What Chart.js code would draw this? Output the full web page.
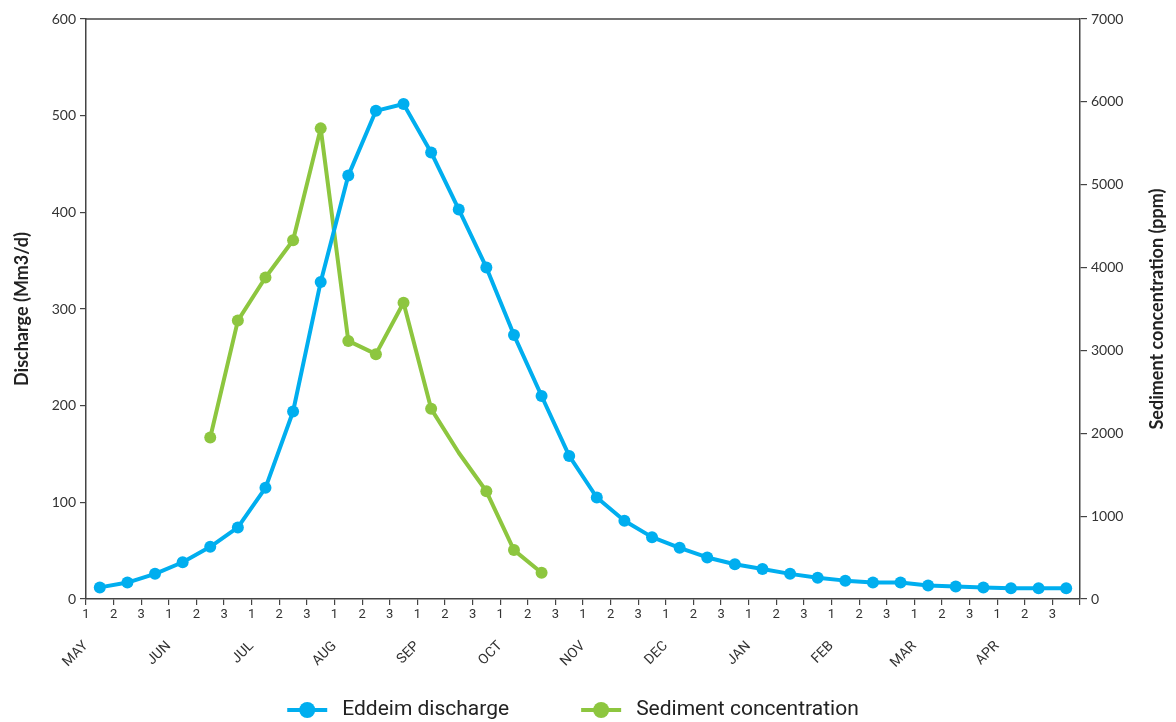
<!DOCTYPE html>
<html>
<head>
<meta charset="utf-8">
<script src="https://cdn.jsdelivr.net/npm/chart.js@4/dist/chart.umd.min.js"></script>
<style>
  body { margin: 0; background: #fff; }
  #wrap { width: 1176px; height: 722px; }
</style>
</head>
<body>
<div id="wrap"><canvas id="flowChart" width="1176" height="722"></canvas></div>
<script>
// DATA
const months = ['MAY', 'JUN', 'JUL', 'AUG', 'SEP', 'OCT', 'NOV', 'DEC', 'JAN', 'FEB', 'MAR', 'APR'];
const dekads = ['1', '2', '3'];

// discharge per dekad, Mm3/d (May 1 .. Apr 3)
const discharge = [
  12, 17, 26, 38, 54, 74, 115, 194, 328,
  438, 505, 512, 462, 403, 343, 273, 210, 148,
  105, 81, 64, 53, 43, 36, 31, 26, 22,
  19, 17, 17, 14, 13, 12, 11, 11, 11
];

// sediment concentration, ppm (only measured during flood season)
const sediment = [
  null, null, null, null, 1950, 3360, 3880, 4330, 5680,
  3115, 2955, 3575, 2295, 1765, 1300, 590, 317, null,
  null, null, null, null, null, null, null, null, null,
  null, null, null, null, null, null, null, null, null
];
const sedimentMarkerOff = [13];  // bend with no marker

const blue = '#00aeef';
const green = '#8dc63f';
const axisColor = '#444';

function toPoints(values) {
  const pts = [];
  values.forEach((v, i) => { if (v !== null) pts.push({ x: i + 0.5, y: v, i: i }); });
  return pts;
}

// top border line + right axis title (reads bottom-to-top) + legend
const extras = {
  id: 'extras',
  afterDraw(chart) {
    const { ctx, chartArea: a } = chart;
    ctx.save();
    ctx.strokeStyle = axisColor;
    ctx.lineWidth = 1.5;
    ctx.beginPath();
    ctx.moveTo(a.left, a.top);
    ctx.lineTo(a.right, a.top);
    ctx.stroke();

    // right title
    ctx.save();
    ctx.translate(1157, (a.top + a.bottom) / 2);
    ctx.rotate(-Math.PI / 2);
    ctx.fillStyle = '#222';
    ctx.font = 'bold 18px Lato';
    ctx.textAlign = 'center';
    ctx.textBaseline = 'middle';
    ctx.fillText('Sediment concentration (ppm)', 0, 0);
    ctx.restore();

    // legend
    const items = chart.data.datasets.map(ds => ({ text: ds.label, color: ds.borderColor }));
    ctx.font = '21px Roboto';
    const iconW = 40, gap = 15, between = 72;
    const widths = items.map(it => iconW + gap + ctx.measureText(it.text).width);
    const total = widths.reduce((s, w) => s + w, 0) + between * (items.length - 1);
    let x = 573 - total / 2;
    const y = 710;
    items.forEach((it, k) => {
      ctx.strokeStyle = it.color;
      ctx.fillStyle = it.color;
      ctx.lineWidth = 4;
      ctx.beginPath();
      ctx.moveTo(x, y);
      ctx.lineTo(x + iconW, y);
      ctx.stroke();
      ctx.beginPath();
      ctx.arc(x + iconW / 2, y, 8, 0, Math.PI * 2);
      ctx.fill();
      ctx.fillStyle = '#222';
      ctx.textAlign = 'left';
      ctx.textBaseline = 'middle';
      ctx.fillText(it.text, x + iconW + gap, y);
      x += widths[k] + between;
    });
    ctx.restore();
  }
};

const sedPoints = toPoints(sediment);

new Chart(document.getElementById('flowChart'), {
  type: 'line',
  data: {
    datasets: [{
      label: 'Eddeim discharge',
      data: toPoints(discharge),
      yAxisID: 'y',
      borderColor: blue,
      backgroundColor: blue,
      borderWidth: 4,
      borderJoinStyle: 'round',
      pointRadius: 6,
      pointHoverRadius: 6,
      pointBorderWidth: 0,
      tension: 0
    }, {
      label: 'Sediment concentration',
      data: sedPoints,
      yAxisID: 'y1',
      borderColor: green,
      backgroundColor: green,
      borderWidth: 4,
      borderJoinStyle: 'round',
      pointRadius: sedPoints.map(p => sedimentMarkerOff.includes(p.i) ? 0 : 6),
      pointHoverRadius: 6,
      pointBorderWidth: 0,
      tension: 0
    }]
  },
  options: {
    responsive: false,
    animation: false,
    layout: { padding: { top: 19, bottom: 42 } },
    plugins: {
      tooltip: { enabled: false },
      legend: { display: false }
    },
    scales: {
      x: {
        type: 'linear',
        position: 'bottom',
        min: 0,
        max: 36,
        afterFit(s) { s.height = 26; },
        border: { color: axisColor, width: 1.5 },
        grid: { drawOnChartArea: false, tickLength: 6, color: axisColor, lineWidth: 1.2 },
        ticks: {
          stepSize: 1,
          autoSkip: false,
          maxRotation: 0,
          padding: 2,
          color: '#333',
          font: { family: 'Roboto', size: 13 },
          callback: v => v < 36 ? dekads[v % 3] : ''
        }
      },
      x2: {
        type: 'linear',
        position: 'bottom',
        min: 0,
        max: 36,
        afterFit(s) { s.height = 55; },
        border: { display: false },
        grid: { display: false },
        ticks: {
          stepSize: 3,
          autoSkip: false,
          minRotation: 45,
          maxRotation: 45,
          padding: 5,
          color: '#333',
          font: { family: 'Roboto', size: 14 },
          callback: v => v < 36 ? months[v / 3] : ''
        }
      },
      y: {
        position: 'left',
        min: 0,
        max: 600,
        afterFit(s) { s.width = 86; },
        border: { color: axisColor, width: 1.5 },
        grid: { drawOnChartArea: false, tickLength: 6, color: axisColor, lineWidth: 1.2 },
        ticks: { stepSize: 100, padding: 4, color: '#333', font: { family: 'Lato', size: 14 } },
        title: { display: true, text: 'Discharge (Mm3/d)', color: '#222', font: { family: 'Lato', size: 18, weight: 'bold' }, padding: { top: 11, bottom: 4 } }
      },
      y1: {
        position: 'right',
        min: 0,
        max: 7000,
        afterFit(s) { s.width = 96; },
        border: { color: axisColor, width: 1.5 },
        grid: { drawOnChartArea: false, tickLength: 7, color: axisColor, lineWidth: 1.2 },
        ticks: { stepSize: 1000, padding: 4, color: '#333', font: { family: 'Lato', size: 14 }, callback: v => String(v) }
      }
    }
  },
  plugins: [extras]
});
</script>
</body>
</html>
